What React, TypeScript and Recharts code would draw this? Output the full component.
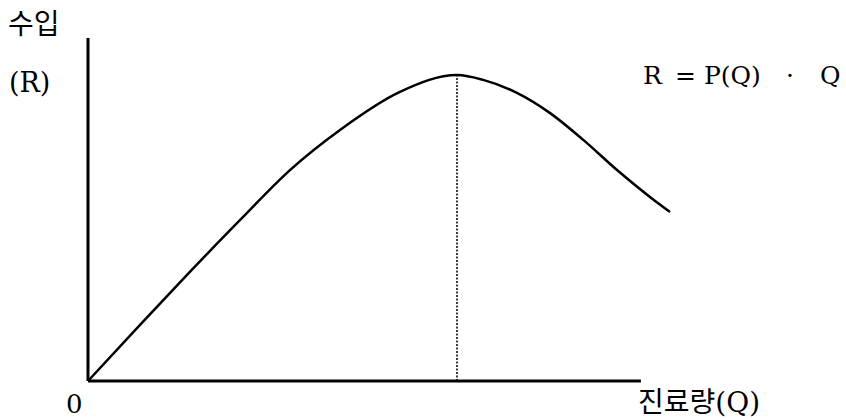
import React from "react";
import { LineChart, Line, XAxis, YAxis, ReferenceLine } from "recharts";

// Quantity of care (Q), relative units 0..100
const qValues = [0, 8.9, 17.5, 26.1, 34.7, 43.3, 53.6, 63.4, 67.9, 73.7, 79.4, 85.1, 90.9, 96.6, 100];
// Revenue (R), relative units 0..100
const rValues = [0, 16.3, 31.8, 46.9, 61.5, 73.2, 84.3, 89.2, 87.8, 84.0, 78.1, 70.3, 61.5, 53.6, 49.3];

const peakQ = 63.4;
const peakR = 89.2;
const xAxisEnd = 95;
const yAxisTop = 100;

const yTitle = "수입";
const yUnit = "(R)";
const xTitle = "진료량(Q)";
const origin = "0";
const formulaParts = ["R", "=", "P(Q)", "·", "Q"];

const data = qValues.map((q, i) => ({ q, r: rValues[i] }));

const W = 846;
const H = 419;
const FONT = "'DejaVu Serif', 'Noto Sans CJK KR', serif";

export default function App() {
  const formulaX = [643, 675, 704, 786, 820];
  return (
    <div style={{ position: "absolute", left: 0, top: 0, width: W, height: H, background: "#fff" }}>
      <LineChart
        width={W}
        height={H}
        data={data}
        margin={{ top: 38, right: 176, bottom: 38, left: 88 }}
      >
        <XAxis type="number" dataKey="q" domain={[0, 100]} hide />
        <YAxis type="number" domain={[0, 100]} hide />
        <ReferenceLine
          segment={[{ x: 0, y: 0 }, { x: 0, y: yAxisTop }]}
          stroke="#000"
          strokeWidth={3}
        />
        <ReferenceLine
          segment={[{ x: 0, y: 0 }, { x: xAxisEnd, y: 0 }]}
          stroke="#000"
          strokeWidth={3}
        />
        <ReferenceLine
          segment={[{ x: peakQ, y: 0 }, { x: peakQ, y: peakR }]}
          stroke="#000"
          strokeWidth={1.5}
          strokeDasharray="2 1.5"
        />
        <Line
          type="monotone"
          dataKey="r"
          stroke="#000"
          strokeWidth={2.5}
          dot={false}
          isAnimationActive={false}
        />
      </LineChart>
      <svg
        width={W}
        height={H}
        style={{ position: "absolute", left: 0, top: 0, pointerEvents: "none" }}
      >
        <text x={8} y={34} fontSize={28} fontFamily={FONT} fill="#000">{yTitle}</text>
        <text x={9} y={92} fontSize={27} fontFamily={FONT} fill="#000">{yUnit}</text>
        <text y={84} fontSize={25} fontFamily={FONT} fill="#000">
          {formulaParts.map((p, i) => (
            <tspan key={i} x={formulaX[i]}>{p}</tspan>
          ))}
        </text>
        <text x={66} y={413} fontSize={26} fontFamily={FONT} fill="#000">{origin}</text>
        <text x={638} y={412} fontSize={28} fontFamily={FONT} fill="#000">{xTitle}</text>
      </svg>
    </div>
  );
}
